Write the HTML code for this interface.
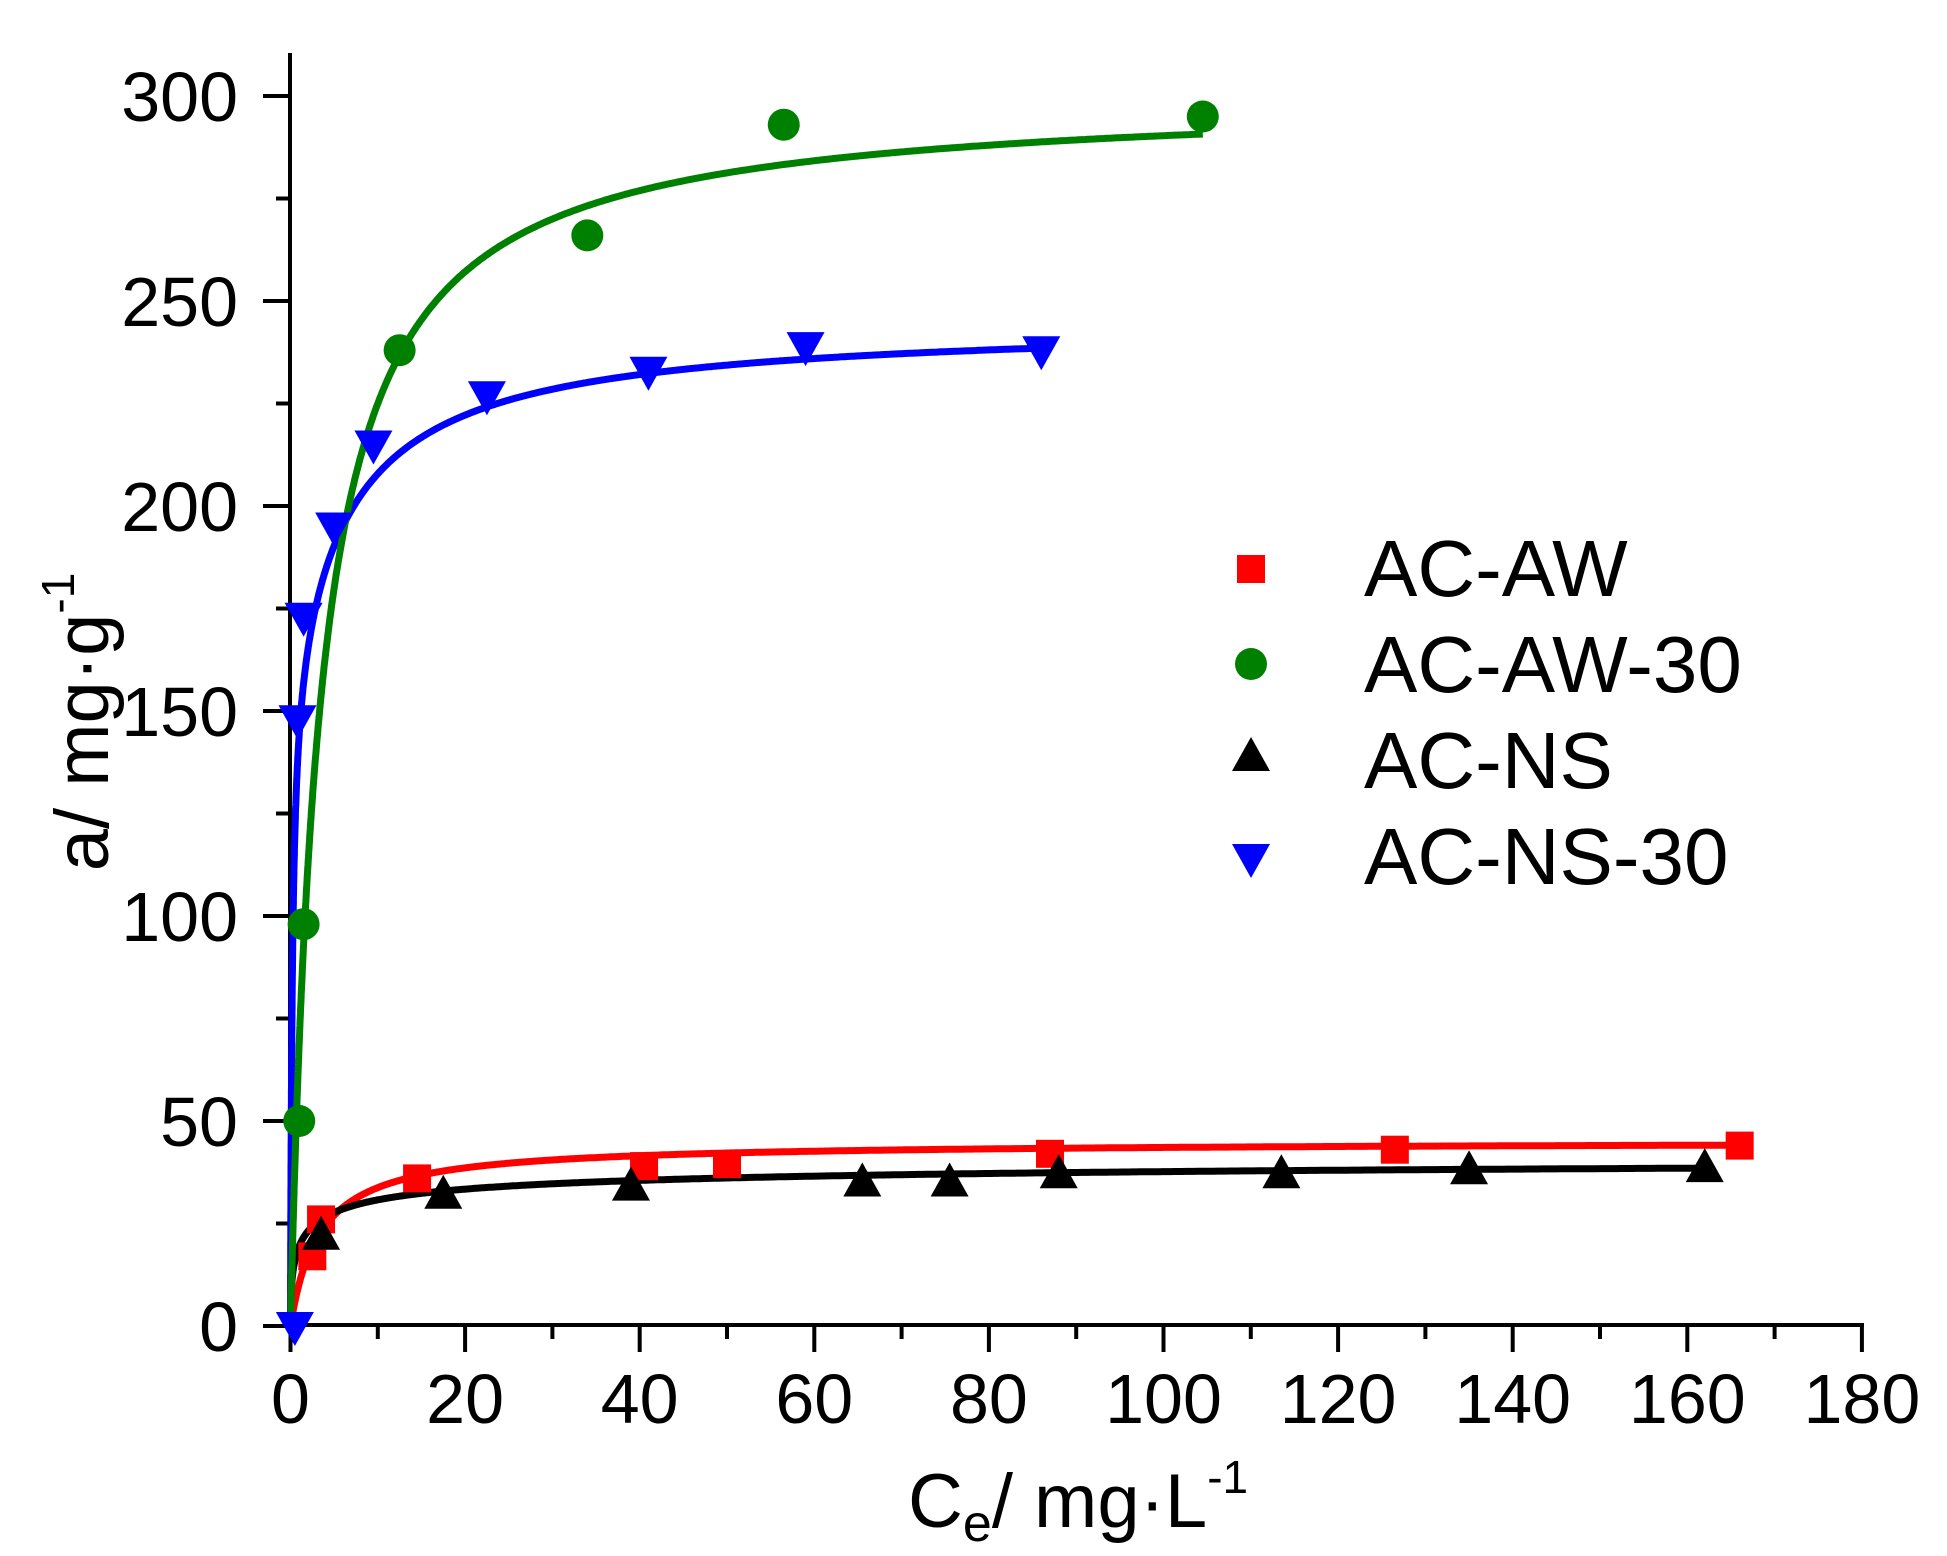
<!DOCTYPE html>
<html><head><meta charset="utf-8"><style>
html,body{margin:0;padding:0;background:#fff;}
svg{display:block;}
text{font-family:"Liberation Sans",Arial,sans-serif;fill:#000;}
</style></head><body>
<svg id="s" width="1947" height="1556" viewBox="0 0 1947 1556" xmlns="http://www.w3.org/2000/svg">
<g id="axes" stroke="#000" stroke-width="4" fill="none">
<line x1="290" y1="53" x2="290" y2="1327"/>
<line x1="288" y1="1325" x2="1864" y2="1325"/>
</g>
<g id="ticks" stroke="#000" stroke-width="4"></g>
<g id="curves" fill="none" stroke-width="7"></g>
<g id="marks"></g>
<g id="labels" font-size="70"></g>
<text x="1364" y="596" font-size="80">AC-AW</text>
<text x="1364" y="692" font-size="80">AC-AW-30</text>
<text x="1364" y="788" font-size="80">AC-NS</text>
<text x="1364" y="884" font-size="80">AC-NS-30</text>
<text x="908" y="1527" font-size="76">C<tspan font-size="52" dy="14">e</tspan><tspan dy="-14">/ mg·L</tspan><tspan font-size="46" dy="-34">-1</tspan></text>
<text transform="translate(108,722) rotate(-90)" text-anchor="middle" font-size="76">a/ mg·g<tspan font-size="46" dy="-34">-1</tspan></text>
</svg>
<script>
var NS="http://www.w3.org/2000/svg";
function X(v){return 290.5+v*8.73;}
function Y(v){return 1326-v*4.1;}
function el(p,t,a){var e=document.createElementNS(NS,t);for(var k in a)e.setAttribute(k,a[k]);document.getElementById(p).appendChild(e);return e;}
for(var v=0;v<=180;v+=10){var maj=v%20==0;el("ticks","line",{x1:X(v),x2:X(v),y1:1325,y2:1325+(maj?27:14)});
 if(maj){var t=el("labels","text",{x:X(v),y:1423,"text-anchor":"middle"});t.textContent=v;}}
for(var v=0;v<=300;v+=25){var maj=v%50==0;el("ticks","line",{x1:290-(maj?27:14),x2:290,y1:Y(v),y2:Y(v)});
 if(maj){var t=el("labels","text",{x:238,y:Y(v)+25,"text-anchor":"end"});t.textContent=v;}}
function curve(f,c0,c1,col){var d="";for(var i=0;i<=800;i++){var c=c0+(c1-c0)*Math.pow(i/800,3);d+=(i?"L":"M")+X(c).toFixed(1)+","+Y(f(c)).toFixed(1);}el("curves","path",{d:d,stroke:col});}
function lang(qm,K){return function(c){return qm*K*c/(1+K*c);};}
function sips(qm,K){return function(c){var s=Math.sqrt(K*c);return qm*s/(1+s);};}
curve(lang(45,0.3),0,166,"#ff0000");
curve(sips(42,0.75),0,162,"#000000");
curve(function(c){return 160*5*c/(1+5*c)+85*0.15*c/(1+0.15*c);},0,86,"#0000ff");
curve(lang(300,0.3),0,104.5,"#008000");
function sq(x,y,col){el("marks","rect",{x:x-14,y:y-14,width:28,height:28,fill:col});}
function ci(x,y,col){el("marks","circle",{cx:x,cy:y,r:16,fill:col});}
function tu(x,y,col){el("marks","polygon",{points:(x-19)+","+(y+14)+" "+(x+19)+","+(y+14)+" "+x+","+(y-20),fill:col});}
function td(x,y,col){el("marks","polygon",{points:(x-19)+","+(y-14)+" "+(x+19)+","+(y-14)+" "+x+","+(y+20),fill:col});}
[[2.5,17],[3.5,26],[14.5,36],[40.5,39],[50,39.5],[87,42],[126.5,43],[166,44]].forEach(function(p){sq(X(p[0]),Y(p[1]),"#ff0000");});
[[1,50],[1.5,98],[12.5,238],[34,266],[56.5,293],[104.5,295]].forEach(function(p){ci(X(p[0]),Y(p[1]),"#008000");});
[[3.5,22],[17.5,32],[39,34],[65.5,35],[75.5,35],[88,37],[113.5,37],[135,38],[162,38.5]].forEach(function(p){tu(X(p[0]),Y(p[1]),"#000");});
[[0.5,0],[0.8,148],[1.5,173],[5,195],[9.5,215],[22.5,227],[41,233],[59,239],[86,238]].forEach(function(p){td(X(p[0]),Y(p[1]),"#0000ff");});
sq(1251,569,"#ff0000");ci(1251,664,"#008000");tu(1251,757,"#000");td(1251,858,"#0000ff");
</script>
</body></html>
